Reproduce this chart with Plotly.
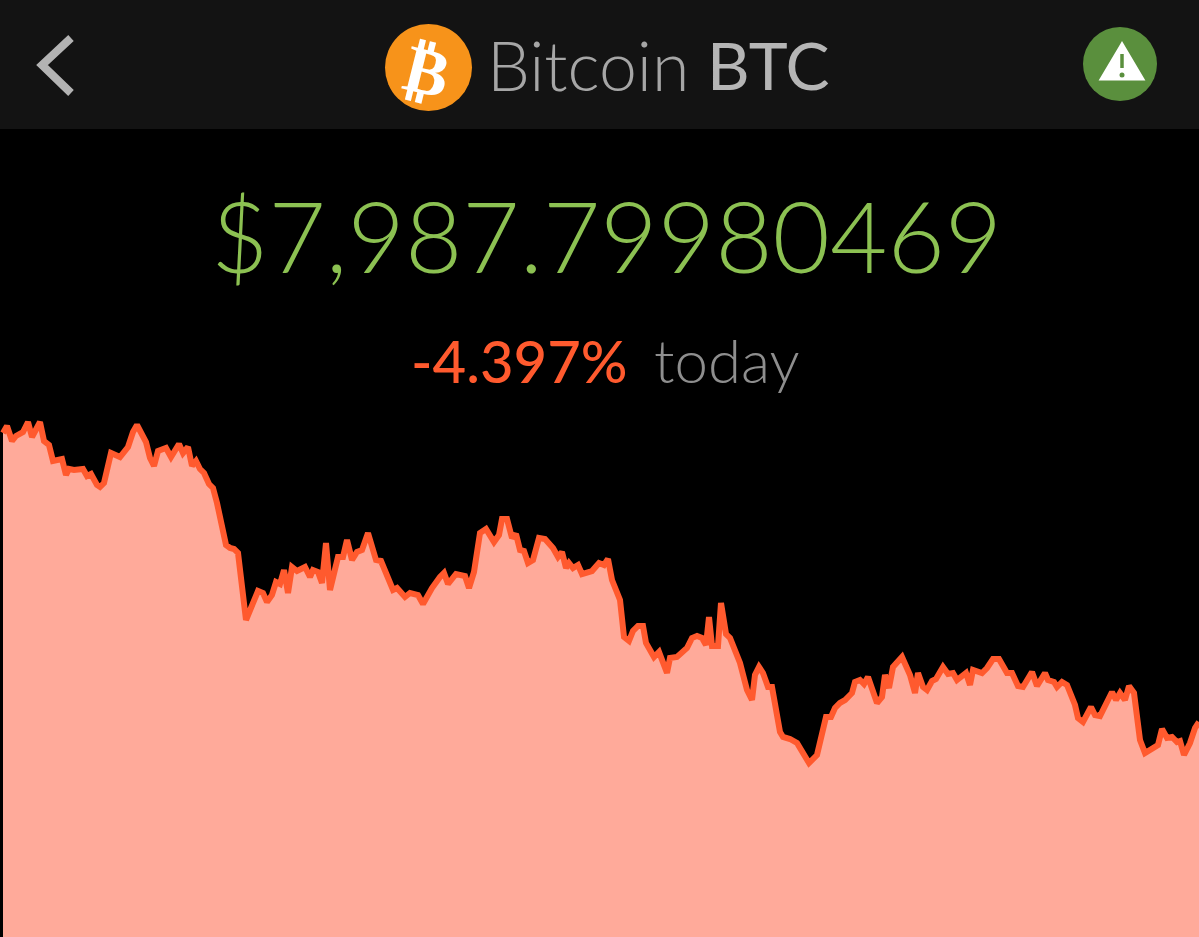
import plotly.graph_objects as go

# Time position and price level (arbitrary units, no axis is shown)
time_index = [
    3,7,12,16,23,28,32,40,44,49,53,62,66,69,74,83,87,91,97,100,104,111,120,128,133,137,146,150,154,158,
    166,171,179,183,188,192,196,200,204,209,213,217,226,230,234,238,246,251,258,263,267,272,276,280,284,288,292,297,305,310,
    313,318,322,326,330,338,343,347,352,357,362,368,376,381,393,397,
    405,410,418,423,432,440,444,448,456,465,469,474,480,486,494,499,502,507,512,516,520,524,528,533,539,545,553,558,562,566,
    569,573,578,582,592,599,604,608,612,620,624,629,633,638,643,646,654,659,667,670,677,687,692,697,702,706,709,712,718,721,
    726,730,740,747,752,755,759,763,768,772,780,783,790,797,
    800,809,817,823,826,831,835,840,845,852,855,860,864,868,877,882,885,889,893,902,910,915,918,923,927,932,936,943,948,953,
    957,966,970,973,982,987,993,999,1004,1007,1012,1018,1023,1032,1037,1045,1048,1054,1057,1062,1067,1075,1078,1083,1091,1095,1100,1107,1112,1116,
    1120,1125,1129,1134,1140,1145,1153,1158,1162,1167,1172,1177,1180,1184,1190,1195,1199,
]
price_level = [
    504,511,496,501,505,515,500,515,496,492,476,478,462,468,467,468,461,463,452,450,454,484,480,490,505,512,495,479,471,486,
    489,480,493,484,490,471,476,468,464,453,449,434,392,389,388,384,317,330,346,344,335,342,355,353,367,344,370,366,370,360,
    367,365,354,394,347,380,380,397,377,385,387,404,377,376,347,349,
    340,344,342,333,349,360,364,353,363,361,349,365,404,408,395,402,418,418,399,403,387,386,374,377,399,398,389,380,385,369,
    374,369,372,363,366,374,372,378,357,337,300,296,306,311,311,294,280,285,264,279,280,289,299,301,299,292,320,291,291,334,
    303,299,274,247,237,262,270,264,250,250,205,200,198,194,
    189,174,182,210,220,220,229,234,237,244,255,257,253,260,234,240,262,249,270,280,262,244,264,250,247,256,258,270,263,264,
    257,264,252,267,264,269,278,278,267,264,264,251,250,265,251,264,257,255,250,255,252,232,219,215,230,222,221,237,245,237,
    244,237,251,244,197,184,190,192,208,199,200,195,196,182,194,209,215,
]

coin_name = "Bitcoin"
coin_symbol = "BTC"
price_text = "$7,987.79980469"
change_text = "-4.397%"
period_text = "today"

FONT = "Lato"
fig = go.Figure()
fig.add_trace(go.Scatter(
    x=time_index, y=price_level, mode="lines", fill="tozeroy",
    fillcolor="#FFAA9A", line=dict(color="#FF5A2E", width=6, shape="linear"),
    hoverinfo="skip", showlegend=False,
))

shapes = [
    dict(type="rect", x0=0, x1=1199, y0=808, y1=937, fillcolor="#131313", line_width=0, layer="below"),
    dict(type="path", path="M 71 899 L 42 872 L 71 844", line=dict(color="#B3B3B3", width=8)),
    dict(type="circle", x0=385, x1=472, y0=826, y1=913, fillcolor="#F7931A", line_width=0),
    dict(type="circle", x0=1083, x1=1157, y0=836, y1=910, fillcolor="#5A8F3D", line_width=0),
    dict(type="path", path="M 1122 891 L 1103 859 L 1141 859 Z", fillcolor="white",
         line=dict(color="white", width=5)),
    dict(type="line", x0=1122, x1=1122, y0=883, y1=869, line=dict(color="#5A8F3D", width=3.5)),
    dict(type="circle", x0=1119.5, x1=1124.5, y0=859.5, y1=864.5, fillcolor="#5A8F3D", line_width=0),
]

def label(text, x, y, size, color, weight=300, anchor="left", angle=0):
    return dict(text=text, x=x, y=y, xref="x", yref="y", showarrow=False, xanchor=anchor, yanchor="middle",
                textangle=angle, font=dict(family=FONT, size=size, color=color, weight=weight))

annotations = [
    label("₿", 428, 869, 66, "white", weight=700, anchor="center", angle=14),
    label(coin_name, 485, 873, 68, "#A6A6A6", weight=300),
    label(coin_symbol, 705, 873, 66, "#B5B5B5", weight=400),
    label(price_text, 606, 703, 99, "#8CC152", weight=300, anchor="center"),
    label(change_text, 409, 577, 58, "#FF5A2E", weight=500),
    label(period_text, 652, 577, 60, "#8E8E8E", weight=300),
]

fig.update_layout(
    width=1199, height=937, margin=dict(l=0, r=0, t=0, b=0),
    paper_bgcolor="black", plot_bgcolor="black", showlegend=False,
    xaxis=dict(range=[0, 1199], visible=False, fixedrange=True),
    yaxis=dict(range=[0, 937], visible=False, fixedrange=True),
    shapes=shapes, annotations=annotations,
)
fig.write_html(
    "out.html",
    config=dict(displayModeBar=False),
    post_script="document.body.style.margin='0';document.body.style.background='black';document.documentElement.style.overflow='hidden';",
)
